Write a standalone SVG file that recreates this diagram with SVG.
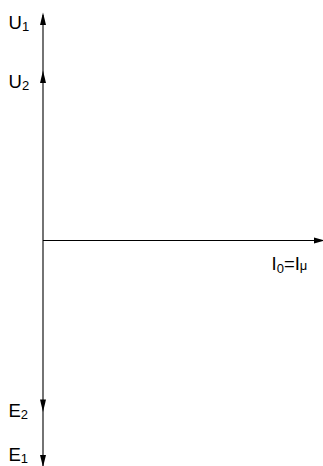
<svg xmlns="http://www.w3.org/2000/svg" width="323" height="466" viewBox="0 0 323 466">
<style>
.ax{stroke:#000;stroke-width:1.1;fill:none}
.ah{fill:#000;stroke:none}
.t{font-family:"Liberation Sans",Arial,sans-serif;font-size:18.5px;fill:#000}
.s{font-size:13px}
</style>
<rect width="323" height="466" fill="#fff"/>
<g id="connectors">
<line class="ax" x1="43" y1="15" x2="43" y2="466"/>
<line class="ax" x1="43" y1="240.5" x2="318" y2="240.5"/>
</g>
<g id="U1">
<polygon class="ah" points="43,12.5 40,25 46,25"/>
<text class="t" x="8.5" y="29">U<tspan class="s" dy="2">1</tspan></text>
</g>
<g id="U2">
<polygon class="ah" points="43,70.5 40,83 46,83"/>
<text class="t" x="8.5" y="88">U<tspan class="s" dy="2">2</tspan></text>
</g>
<g id="E2">
<polygon class="ah" points="43,412 40,399.5 46,399.5"/>
<text class="t" x="8.5" y="417">E<tspan class="s" dy="2">2</tspan></text>
</g>
<g id="E1">
<polygon class="ah" points="43,467 40,455 46,455"/>
<text class="t" x="8.5" y="461">E<tspan class="s" dy="1.5">1</tspan></text>
</g>
<g id="I0">
<polygon class="ah" points="325,240.5 314,237.5 314,243.5"/>
<text class="t" x="271.5" y="270">I<tspan class="s" dy="3">0</tspan><tspan dy="-3">=I</tspan><tspan class="s" dy="0">μ</tspan></text>
</g>
</svg>
